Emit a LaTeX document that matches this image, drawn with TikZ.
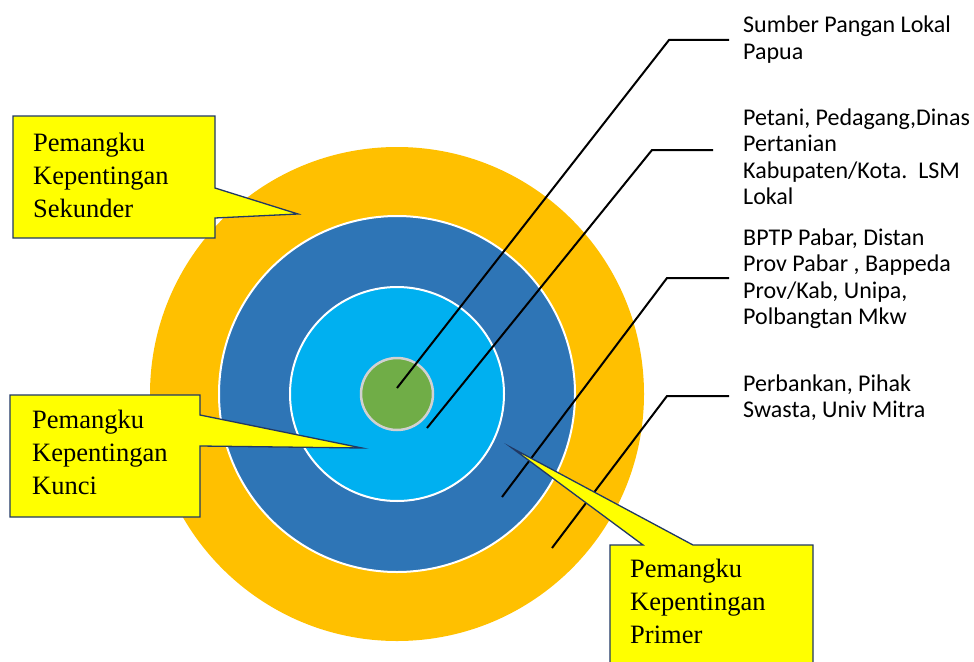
\documentclass[tikz,border=0pt]{standalone}
\usepackage{fontspec}
\setmainfont{Liberation Serif}
\newfontfamily\calib{Carlito}
\definecolor{ringorange}{HTML}{FFC000}
\definecolor{ringdblue}{HTML}{2E75B6}
\definecolor{ringlblue}{HTML}{00B0F0}
\definecolor{ringgreen}{HTML}{70AD47}
\definecolor{calloutfill}{HTML}{FFFF00}
\definecolor{calloutline}{HTML}{203864}
\begin{document}
\begin{tikzpicture}[x=1pt,y=-1pt,
  ring/.style={circle, inner sep=0pt, outer sep=0pt},
  lbl/.style={font=\calib\fontsize{24}{26.5}\selectfont, align=left, inner sep=0pt, anchor=base west},
  ctext/.style={font=\fontsize{26.5}{33}\selectfont, align=left, inner sep=0pt, anchor=base west},
  connector/.style={draw=black, line width=2pt},
  callout/.style={fill=calloutfill, draw=calloutline, line width=1.3pt, line join=miter, miter limit=30}]
\useasboundingbox (0,0) rectangle (974,661);
\clip (0,0) rectangle (974,661);
\coordinate (c) at (397,394);
% rings
\node[ring, fill=ringorange, minimum size=494pt] (secondary) at (c) {};
\node[ring, fill=ringdblue, draw=white, line width=2pt, minimum size=356pt] (primary) at (c) {};
\node[ring, fill=ringlblue, draw=white, line width=2pt, minimum size=214pt] (key) at (c) {};
\node[ring, fill=ringgreen, draw=black!18, line width=2.5pt, minimum size=72pt] (core) at (c) {};
% labels (anchor = baseline of last line)
\node[lbl] (l1) at (743,59.5) {Sumber Pangan Lokal\\Papua};
\node[lbl] (l2) at (743,204.5) {Petani, Pedagang,Dinas\\Pertanian\\Kabupaten/Kota.\ \ LSM\\Lokal};
\node[lbl] (l3) at (743,324.5) {BPTP Pabar, Distan\\Prov Pabar , Bappeda\\Prov/Kab, Unipa,\\Polbangtan Mkw};
\node[lbl] (l4) at (743,417.5) {Perbankan, Pihak\\Swasta, Univ Mitra};
% connector points
\coordinate (s1) at (397,388); \coordinate (k1) at (669,40); \coordinate (e1) at (729,40);
\coordinate (s2) at (427,428); \coordinate (k2) at (652,150); \coordinate (e2) at (713,150);
\coordinate (s3) at (502,497); \coordinate (k3) at (667,278); \coordinate (e3) at (729,278);
\coordinate (s4) at (552,548); \coordinate (k4) at (667,396); \coordinate (e4) at (729,396);
\draw[connector] (s1) -- (k1) -- (e1);
\draw[connector] (s2) -- (k2) -- (e2);
\draw[connector] (s3) -- (k3) -- (e3);
\draw[connector] (s4) -- (k4) -- (e4);
% callouts
\draw[callout] (13,116) -- (215,116) -- (215,188) -- (298,214) -- (215,218) -- (215,238) -- (13,238) -- cycle;
\node[ctext] (csek) at (33,217) {Pemangku\\Kepentingan\\Sekunder};
\draw[callout] (10,395) -- (200,395) -- (200,415) -- (362,448) -- (200,446) -- (200,517) -- (10,517) -- cycle;
\node[ctext] (ckun) at (32,494) {Pemangku\\Kepentingan\\Kunci};
\draw[callout] (610,545) -- (643,545) -- (512,448) -- (693,545) -- (813,545) -- (813,690) -- (610,690) -- cycle;
\node[ctext] (cpri) at (630,643) {Pemangku\\Kepentingan\\Primer};
\end{tikzpicture}
\end{document}
